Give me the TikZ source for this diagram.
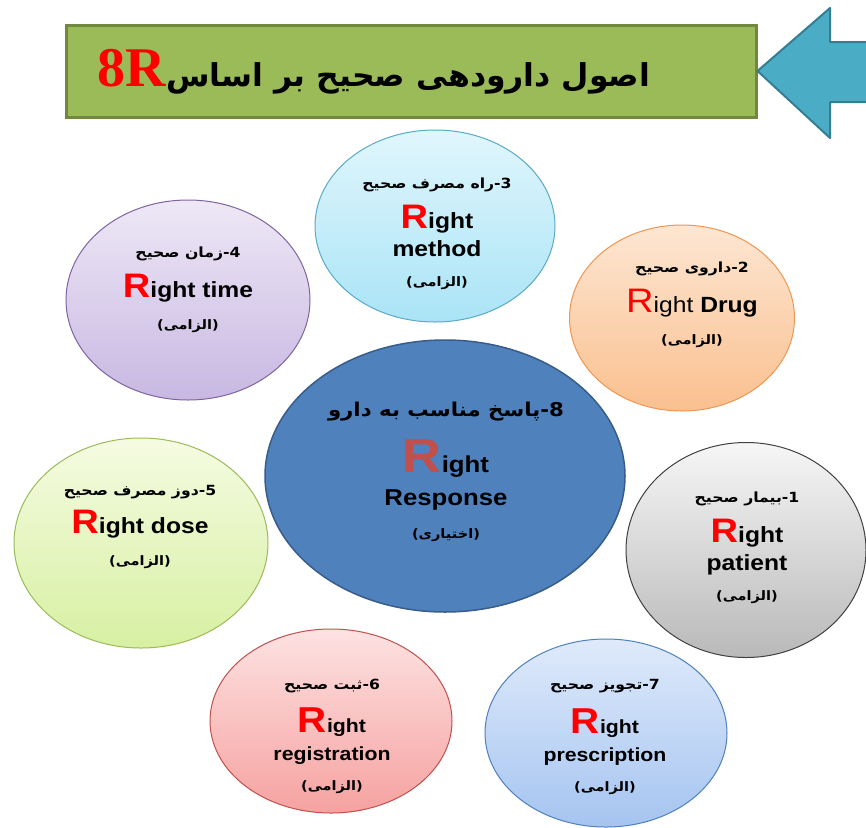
\documentclass[tikz,border=0pt]{standalone}
\usepackage{fontspec}
\setmainfont{Liberation Sans}
\newfontfamily\fa[Script=Arabic]{DejaVu Sans}
\newfontfamily\titleserif{Liberation Serif}
\TeXXeTstate=1
\usepackage{tikz}
\usetikzlibrary{shapes.geometric, positioning}
\definecolor{titlegreen}{RGB}{155,187,89}
\definecolor{titleframe}{RGB}{113,137,63}
\definecolor{arrowteal}{RGB}{75,172,198}
\definecolor{arrowframe}{RGB}{53,125,145}
\definecolor{cyantop}{RGB}{224,246,252}
\definecolor{cyanbot}{RGB}{170,228,246}
\definecolor{cyanframe}{RGB}{90,170,200}
\definecolor{purptop}{RGB}{238,232,246}
\definecolor{purpbot}{RGB}{200,184,226}
\definecolor{purpframe}{RGB}{128,100,162}
\definecolor{orgtop}{RGB}{253,230,210}
\definecolor{orgbot}{RGB}{250,192,143}
\definecolor{orgframe}{RGB}{240,150,80}
\definecolor{midblue}{RGB}{79,129,189}
\definecolor{midframe}{RGB}{56,93,138}
\definecolor{midred}{RGB}{192,80,77}
\definecolor{grntop}{RGB}{245,251,226}
\definecolor{grnbot}{RGB}{215,240,162}
\definecolor{grnframe}{RGB}{155,187,89}
\definecolor{graytop}{RGB}{246,246,246}
\definecolor{graybot}{RGB}{185,185,185}
\definecolor{grayframe}{RGB}{64,64,64}
\definecolor{pinktop}{RGB}{253,226,226}
\definecolor{pinkbot}{RGB}{245,162,160}
\definecolor{pinkframe}{RGB}{192,80,77}
\definecolor{lbtop}{RGB}{223,234,251}
\definecolor{lbbot}{RGB}{165,196,240}
\definecolor{lbframe}{RGB}{79,129,189}
\newcommand{\faline}[2][14]{{\fa\bfseries\fontsize{#1}{#1}\selectfont\beginR #2\endR}}
\newcommand{\redR}[2][red]{{\color{#1}\fontsize{#2}{#2}\selectfont R}}
\tikzset{
  bubble/.style={ellipse, draw, line width=1pt, inner sep=0pt},
  bubtext/.style={align=center, text=black, font=\bfseries\fontsize{22}{28}\selectfont, xscale=1.12},
  titlebox/.style={rectangle, draw=titleframe, fill=titlegreen, line width=3pt,
    minimum width=690pt, minimum height=92pt, inner sep=0pt},
  pointer/.style={fill=arrowteal, draw=arrowframe, line width=2pt, line join=round}
}

\begin{document}
\begin{tikzpicture}[x=1pt, y=-1pt]
  \fill[white] (0,0) rectangle (866,827);
  \useasboundingbox (0,0) rectangle (866,827);

  % Title and pointer
  \node[titlebox] (title) at (411,71) {};
  \node[font=\bfseries\fontsize{31.5}{31.5}\selectfont] (titletxt) at (374,72)
    {\fa\beginR اصول دارودهی صحیح بر اساس\beginL{\titleserif\bfseries\color{red}\fontsize{56}{56}\selectfont 8R}\endL\endR};
  \fill[arrowteal] (title.east) -- (830,8) -- (830,42) -- (866,42) -- (866,102) -- (830,102) -- (830,138) -- cycle;
  \draw[pointer, fill=none] (866,42) -- (830,42) -- (830,8) -- (title.east) -- (830,138) -- (830,102) -- (866,102);

  % Bubbles
  \node[bubble, draw=cyanframe, top color=cyantop, bottom color=cyanbot,
    minimum width=240pt, minimum height=192pt] (method) at (435,226) {};
  \node[bubble, draw=purpframe, top color=purptop, bottom color=purpbot,
    minimum width=244pt, minimum height=200pt] (time) at (188,300) {};
  \node[bubble, draw=orgframe, top color=orgtop, bottom color=orgbot,
    minimum width=225pt, minimum height=186pt] (drug) at (682,318) {};
  \node[bubble, draw=grnframe, top color=grntop, bottom color=grnbot,
    minimum width=254pt, minimum height=210pt] (dose) at (141,543) {};
  \node[bubble, draw=grayframe, top color=graytop, bottom color=graybot,
    minimum width=240pt, minimum height=215pt] (patient) at (746,550) {};
  \node[bubble, draw=pinkframe, top color=pinktop, bottom color=pinkbot,
    minimum width=242pt, minimum height=184pt] (registration) at (331,721) {};
  \node[bubble, draw=lbframe, top color=lbtop, bottom color=lbbot,
    minimum width=242pt, minimum height=188pt] (prescription) at (606,733) {};
  \node[bubble, draw=midframe, fill=midblue, line width=1.5pt,
    minimum width=360pt, minimum height=272pt] (response) at (445,476) {};

  % Texts
  \node[bubtext] (methodtxt) at (437,234)
    {\faline{3-راه مصرف صحیح}\\[12pt]\redR{34}ight\\method\\[2pt]\faline[13]{(الزامی)}};
  \node[bubtext] (timetxt) at (188,290)
    {\faline{4-زمان صحیح}\\[12pt]\redR{34}ight time\\[4pt]\faline[13]{(الزامی)}};
  \node[bubtext] (drugtxt) at (692,305)
    {\faline{2-داروی صحیح}\\[12pt]{\mdseries\redR{34}ight }Drug\\[4pt]\faline[13]{(الزامی)}};
  \node[bubtext] (dosetxt) at (140,527)
    {\faline{5-دوز مصرف صحیح}\\[10pt]\redR{34}ight dose\\[4pt]\faline[13]{(الزامی)}};
  \node[bubtext] (patienttxt) at (747,548)
    {\faline{1-بیمار صحیح}\\[12pt]\redR{34}ight\\patient\\[2pt]\faline[13]{(الزامی)}};
  \node[bubtext, font=\bfseries\fontsize{19}{28}\selectfont] (registrationtxt) at (332,736)
    {\faline{6-ثبت صحیح}\\[14pt]\redR{36}ight\\registration\\[2pt]\faline[13]{(الزامی)}};
  \node[bubtext, font=\bfseries\fontsize{19}{28}\selectfont] (prescriptiontxt) at (605,737)
    {\faline{7-تجویز صحیح}\\[14pt]\redR{36}ight\\prescription\\[2pt]\faline[13]{(الزامی)}};
  \node[bubtext, font=\bfseries\fontsize{23}{33}\selectfont] (responsetxt) at (446,472)
    {\faline[19]{8-پاسخ مناسب به دارو}\\[18pt]\redR[midred]{48}ight\\Response\\[0pt]\faline[13]{(اختیاری)}};
\end{tikzpicture}
\end{document}
